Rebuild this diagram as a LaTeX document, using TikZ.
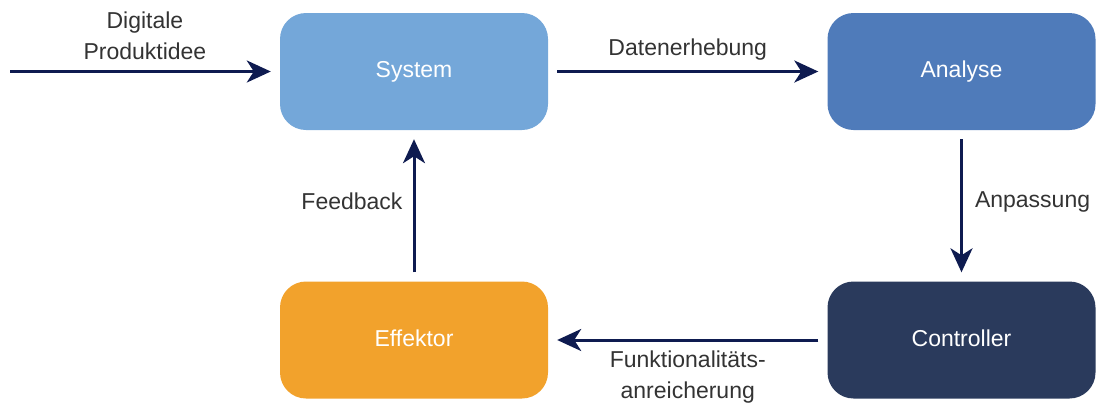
\documentclass[tikz,border=0pt]{standalone}
\usepackage{fontspec}
\setmainfont{Liberation Sans}
\usetikzlibrary{arrows.meta,positioning}
\definecolor{sysblue}{HTML}{74A7D9}
\definecolor{anablue}{HTML}{4F7BBA}
\definecolor{efforange}{HTML}{F2A22C}
\definecolor{ctrlnavy}{HTML}{2A3A5C}
\definecolor{arrownavy}{HTML}{0E1B50}
\definecolor{labelgray}{HTML}{333333}
\tikzset{
    block/.style={
        rectangle,
        rounded corners=26pt,
        draw=none,
        minimum width=268pt,
        minimum height=117pt,
        text=white,
        font=\fontsize{23}{31}\selectfont,
    },
    lbl/.style={
        text=labelgray,
        font=\fontsize{23}{31}\selectfont,
        align=center,
        inner sep=0pt,
    },
    flow/.style={
        draw=arrownavy,
        line width=3pt,
        -{Stealth[length=24pt,width=22pt,inset=7pt]},
        shorten >=9pt,
        shorten <=9pt,
    },
}

\begin{document}
\begin{tikzpicture}[x=1pt,y=-1pt]
    \useasboundingbox (0,0) rectangle (1100,402);
    \node [block, fill=sysblue] (system) at (414,71.5) {\raisebox{3pt}{System}};
    \node [block, fill=anablue] (analyse) at (961.5,71.5) {\raisebox{3pt}{Analyse}};
    \node [block, fill=efforange] (effektor) at (414,340) {\raisebox{3pt}{Effektor}};
    \node [block, fill=ctrlnavy] (controller) at (961.5,340) {\raisebox{3pt}{Controller}};
    \coordinate (idee) at (10,71.5);

    \draw [flow, shorten <=0pt] (idee) -- (system)
        node [lbl, midway, above=10pt] {Digitale\\Produktidee};
    \draw [flow] (system) -- (analyse)
        node [lbl, midway, above=10pt] {Datenerhebung};
    \draw [flow] (analyse) -- (controller)
        node [lbl, midway, right=12pt, yshift=4pt] {Anpassung};
    \draw [flow] (controller) -- (effektor)
        node [lbl, midway, below=9pt] {Funktionalitäts-\\anreicherung};
    \draw [flow] (effektor) -- (system)
        node [lbl, midway, left=10pt, yshift=4pt] {Feedback};
\end{tikzpicture}
\end{document}
